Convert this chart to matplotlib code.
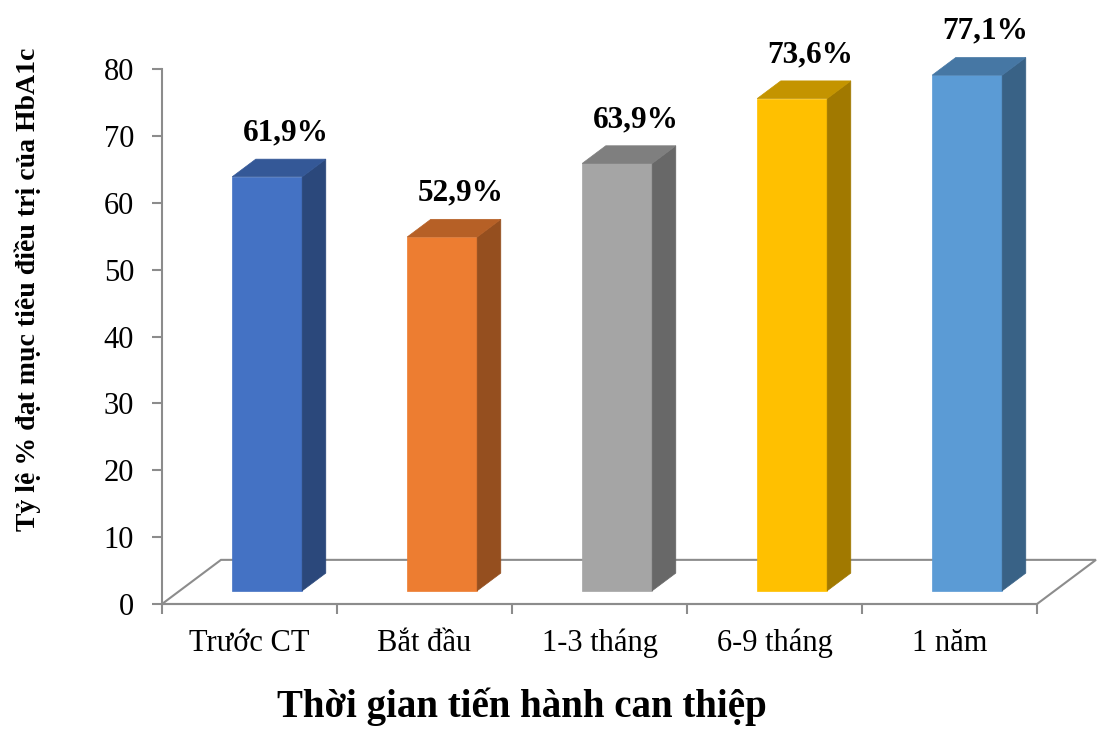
import matplotlib
matplotlib.use("Agg")
import matplotlib.pyplot as plt
from matplotlib.patches import Polygon
import matplotlib.colors as mcolors

plt.rcParams['font.family'] = ['Liberation Serif', 'DejaVu Serif']

categories = ["Trước CT", "Bắt đầu", "1-3 tháng", "6-9 tháng", "1 năm"]
values = [61.9, 52.9, 63.9, 73.6, 77.1]
labels = ["61,9%", "52,9%", "63,9%", "73,6%", "77,1%"]
colors = ["#4472C4", "#ED7D31", "#A5A5A5", "#FFC000", "#5B9BD5"]
yticks = [0, 10, 20, 30, 40, 50, 60, 70, 80]

W, H = 1097, 729
fig = plt.figure(figsize=(W / 100, H / 100), dpi=100)
x0, x1, y0, y1 = 162, 1037, 604, 69
ax = fig.add_axes([x0 / W, 1 - y0 / H, (x1 - x0) / W, (y0 - y1) / H])
ax.set_xlim(-0.5, 4.5)
ax.set_ylim(0, 80)

gray = "#8C8C8C"
Dx, Dy = 0.337, 6.6      # floor depth in data units
f_front, f_depth = 0.30, 0.40
bw = 0.40

# floor
n = len(categories)
floor = Polygon([(-0.5, 0), (n - 0.5, 0), (n - 0.5 + Dx, Dy), (-0.5 + Dx, Dy)],
                closed=True, facecolor="white", edgecolor=gray, lw=1.5,
                clip_on=False, zorder=1)
ax.add_patch(floor)


def shade(c, f):
    r, g, b = mcolors.to_rgb(c)
    return (r * f, g * f, b * f)


for i, (v, c, lab) in enumerate(zip(values, colors, labels)):
    xl = i - bw / 2 + f_front * Dx
    xr = i + bw / 2 + f_front * Dx
    yb = f_front * Dy
    yt = yb + v
    bx, by = f_depth * Dx, f_depth * Dy
    front = Polygon([(xl, yb), (xr, yb), (xr, yt), (xl, yt)], closed=True,
                    facecolor=c, edgecolor=c, lw=0.5, clip_on=False, zorder=3)
    side = Polygon([(xr, yb), (xr + bx, yb + by), (xr + bx, yt + by), (xr, yt)],
                   closed=True, facecolor=shade(c, 0.63), edgecolor=shade(c, 0.63),
                   lw=0.5, clip_on=False, zorder=3)
    top = Polygon([(xl, yt), (xr, yt), (xr + bx, yt + by), (xl + bx, yt + by)],
                  closed=True, facecolor=shade(c, 0.77), edgecolor=shade(c, 0.77),
                  lw=0.5, clip_on=False, zorder=3)
    for p in (front, side, top):
        ax.add_patch(p)
    ax.text(i + 0.205, yt + by + 2.8, lab, ha="center", va="baseline",
            fontsize=22.5, fontweight="bold", color="black", clip_on=False, zorder=5)

# axes styling
for s in ("top", "right"):
    ax.spines[s].set_visible(False)
ax.spines["left"].set_color(gray)
ax.spines["left"].set_linewidth(1.5)
ax.spines["bottom"].set_color(gray)
ax.spines["bottom"].set_linewidth(1.5)
ax.spines["left"].set_zorder(2)
ax.spines["bottom"].set_zorder(2)
ax.patch.set_alpha(0)

ax.set_yticks(yticks)
ax.set_yticklabels([str(t) for t in yticks], fontsize=22)
ax.tick_params(axis="y", direction="out", length=7, width=1.5, color=gray, pad=13)

ax.set_xticks(range(n))
ax.set_xticklabels(categories, fontsize=22)
ax.set_xticks([k - 0.5 for k in range(n + 1)], minor=True)
ax.tick_params(axis="x", which="major", length=0, pad=18)
ax.tick_params(axis="x", which="minor", direction="out", length=7, width=1.5, color=gray)

fig.text(521.5 / W, 1 - 717 / H, "Thời gian tiến hành can thiệp", ha="center",
         va="baseline", fontsize=28, fontweight="bold")
fig.text(28 / W, 1 - 289 / H, "Tỷ lệ % đạt mục tiêu điều trị của HbA1c",
         ha="center", va="center", rotation=90, fontsize=20, fontweight="bold")

fig.savefig("out.png", dpi=100)
